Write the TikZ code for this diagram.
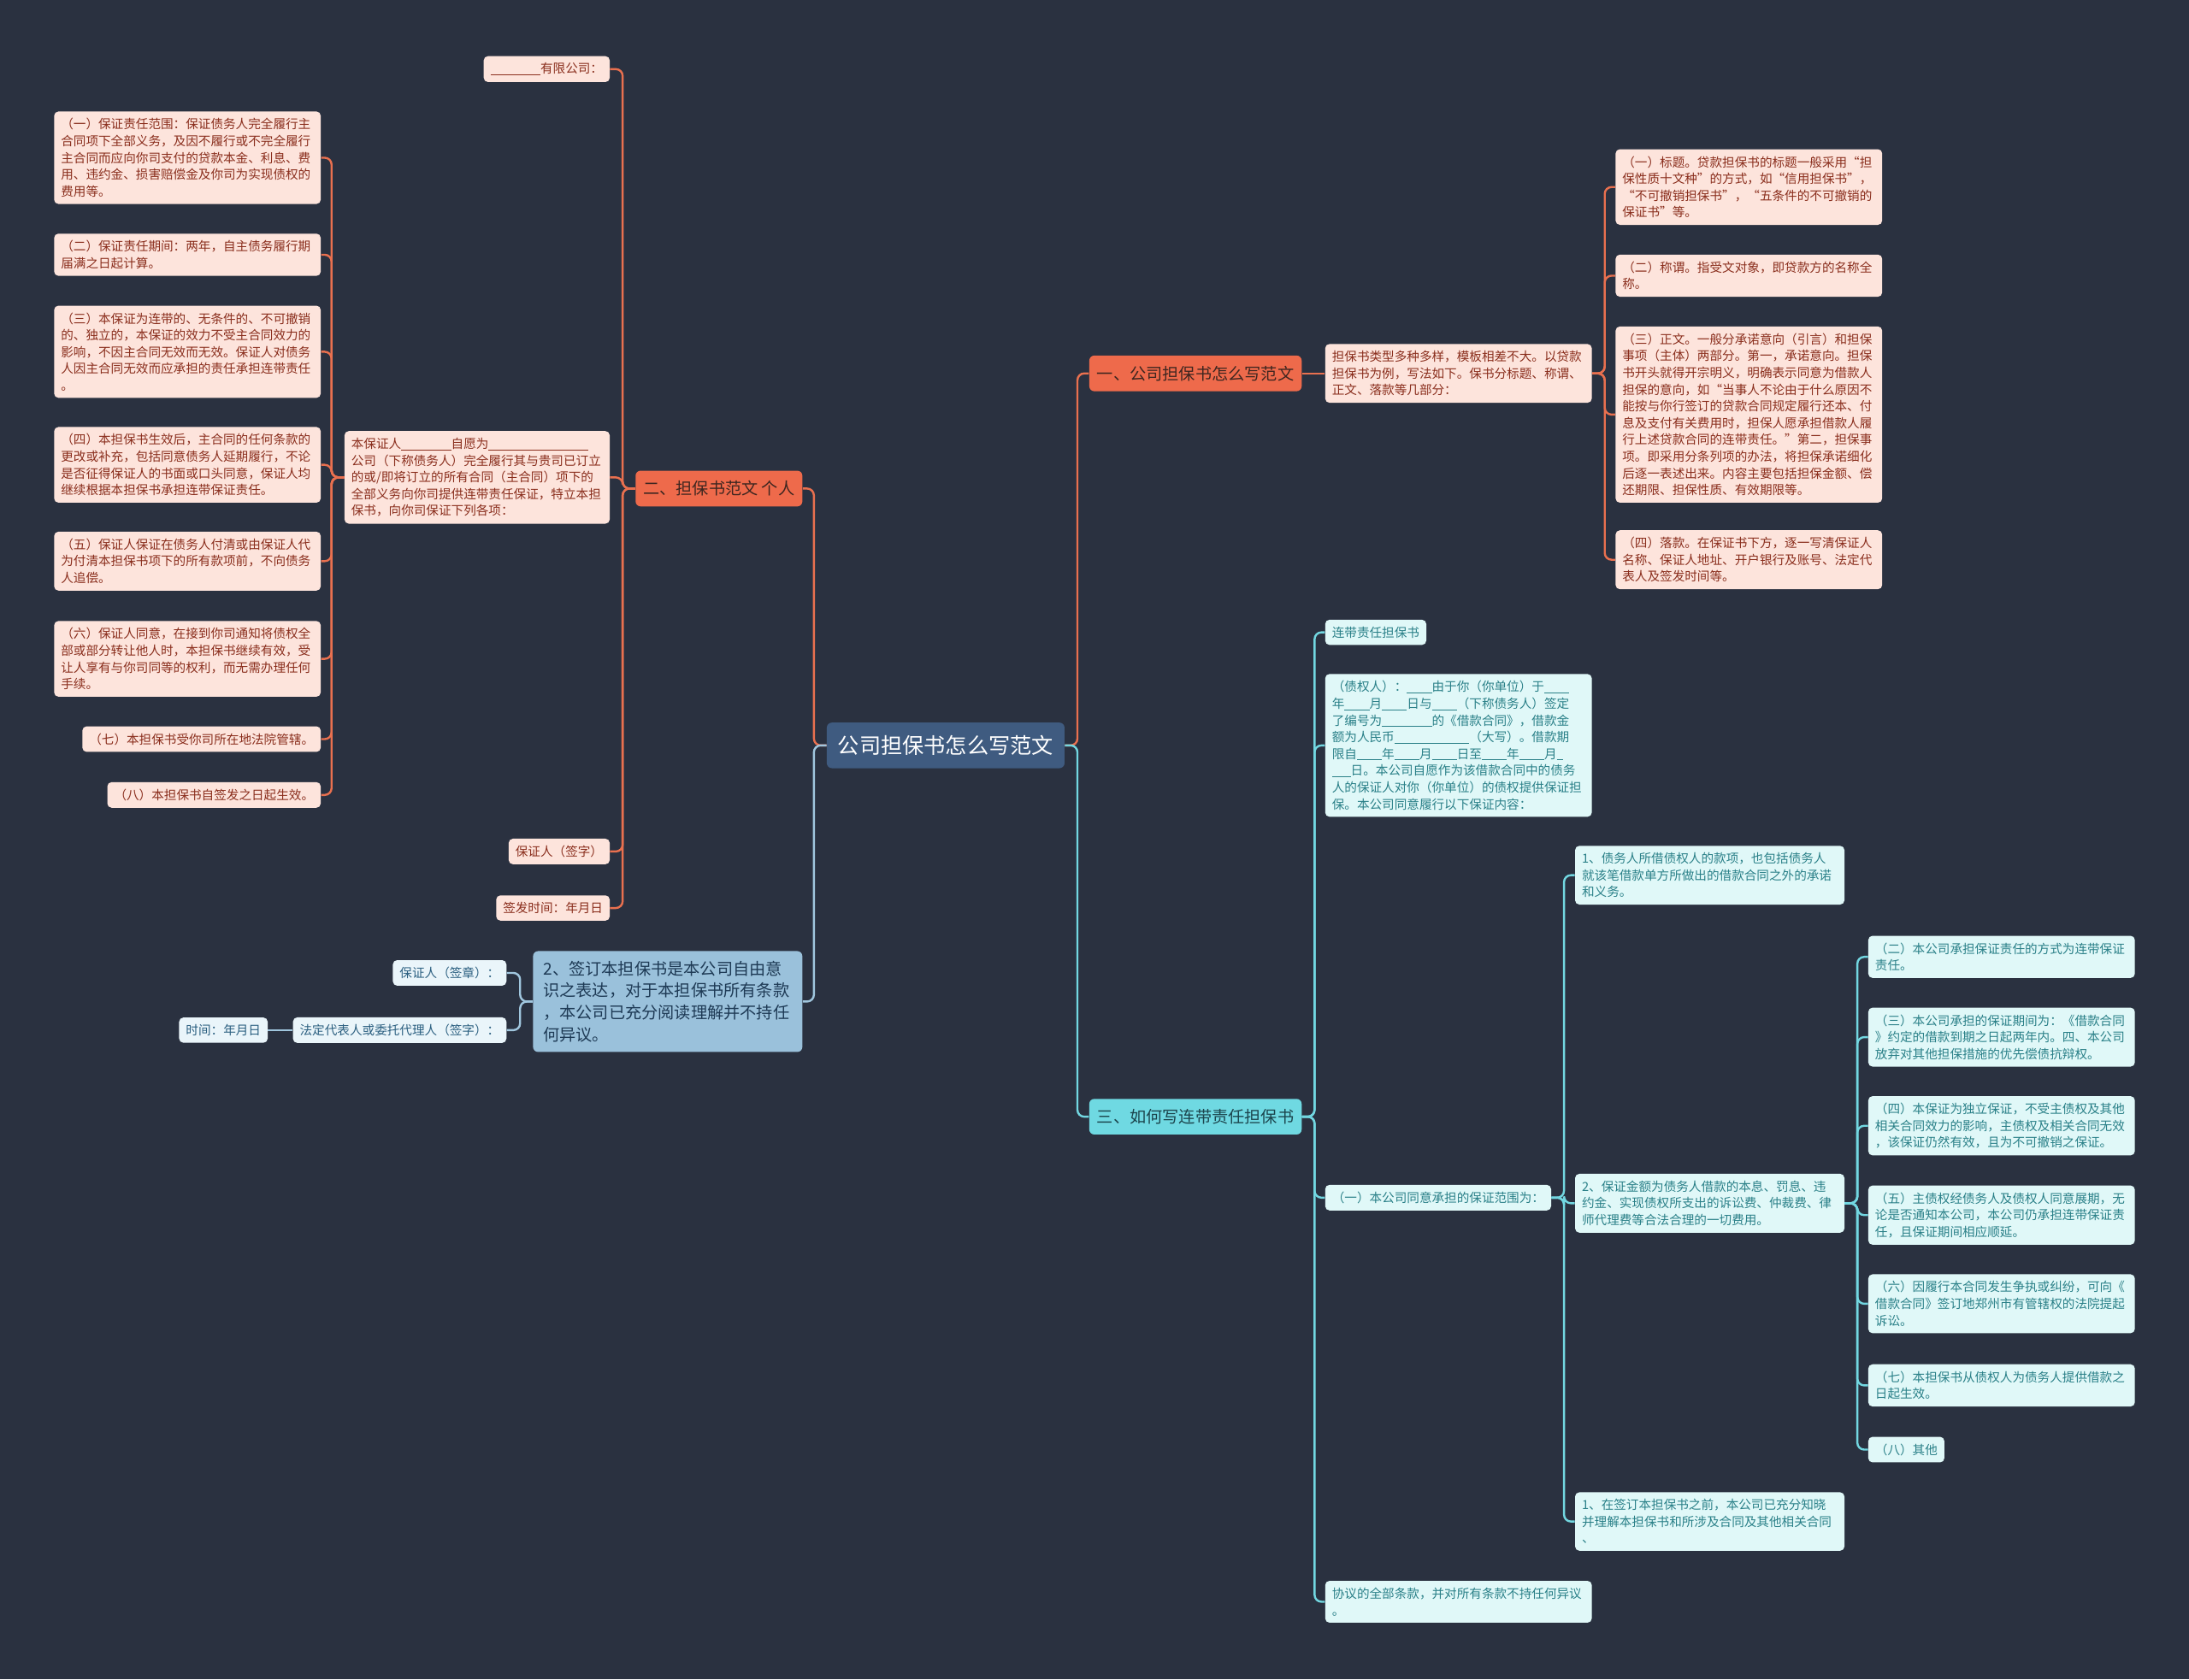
\documentclass[tikz,border=0pt]{standalone}
\usepackage{fontspec}
\setmainfont{Noto Sans CJK SC}
\definecolor{bg}{HTML}{2A3140}
\definecolor{cOr}{HTML}{EE6A4B}
\definecolor{cOrT}{HTML}{3E2620}
\definecolor{cOrL}{HTML}{E9704F}
\definecolor{cPk}{HTML}{FDE4DC}
\definecolor{cPkT}{HTML}{8A2E1D}
\definecolor{cCe}{HTML}{3F5B80}
\definecolor{cBl}{HTML}{9AC1DB}
\definecolor{cBlT}{HTML}{1E3A55}
\definecolor{cBlL}{HTML}{A0C6DE}
\definecolor{cLb}{HTML}{EAF5FA}
\definecolor{cLbT}{HTML}{2B5F80}
\definecolor{cCy}{HTML}{6FD9E2}
\definecolor{cCyT}{HTML}{1C454D}
\definecolor{cCyL}{HTML}{72D7E1}
\definecolor{cCf}{HTML}{E0F8F8}
\definecolor{cCfT}{HTML}{2A8088}
\newcommand\fsS{\fontsize{7.3}{9.8}\selectfont}
\newcommand\fsB{\fontsize{9.6}{12.8}\selectfont}
\newcommand\fsC{\fontsize{12.6}{15}\selectfont}
\newcommand\bk[1]{\rule[-1pt]{#1em}{0.45pt}}
\newcommand\cR[3]{\draw[#1] (#2.east) -- ++(9,0) |- (#3.west);}
\newcommand\cL[3]{\draw[#1] (#2.west) -- ++(-9,0) |- (#3.east);}
\begin{document}
\begin{tikzpicture}[x=0.8163pt,y=-0.8163pt,
  box/.style={rounded corners=2.5pt, inner xsep=4pt, inner ysep=4pt, align=left, font=\fsS},
  pk/.style={box, fill=cPk, text=cPkT},
  lb/.style={box, fill=cLb, text=cLbT},
  cf/.style={box, fill=cCf, text=cCfT},
  wide/.style={text width=147.9pt},
  wideb/.style={text width=149.5pt},
  brbox/.style={rounded corners=3pt, inner xsep=4.5pt, inner ysep=6pt, font=\fsB},
  ol/.style={draw=cOrL, line width=1.2pt, rounded corners=4pt},
  bl/.style={draw=cBlL, line width=1.2pt, rounded corners=4pt},
  cl/.style={draw=cCyL, line width=1.2pt, rounded corners=4pt},
]
\fill[bg] (0,0) rectangle (1568,1203);
\useasboundingbox (0,0) rectangle (1568,1203);

% center
\node[fill=cCe, text=white, rounded corners=3pt, inner xsep=6.5pt, inner ysep=7.5pt, font=\fsC, anchor=west] (C) at (592,534) {公司担保书怎么写范文};

% left orange branch
\node[brbox, fill=cOr, text=cOrT, anchor=east] (B2) at (575,350) {二、担保书范文 个人};
\node[pk, anchor=east] (Y) at (437,49.5) {\bk{4}有限公司：};
\node[pk, anchor=east, text width=147.1pt] (BZ) at (437,342) {本保证人\bk{4}自愿为\bk{8}\\公司（下称债务人）完全履行其与贵司已订立\\的或/即将订立的所有合同（主合同）项下的\\全部义务向你司提供连带责任保证，特立本担\\保书，向你司保证下列各项：};
\node[pk, anchor=east] (S1) at (437,610) {保证人（签字）};
\node[pk, anchor=east] (S2) at (437,650.5) {签发时间：年月日};

\node[pk, wide, anchor=east] (L1) at (230,113) {（一）保证责任范围：保证债务人完全履行主\\合同项下全部义务，及因不履行或不完全履行\\主合同而应向你司支付的贷款本金、利息、费\\用、违约金、损害赔偿金及你司为实现债权的\\费用等。};
\node[pk, wide, anchor=east] (L2) at (230,182.5) {（二）保证责任期间：两年，自主债务履行期\\届满之日起计算。};
\node[pk, wide, anchor=east] (L3) at (230,252) {（三）本保证为连带的、无条件的、不可撤销\\的、独立的，本保证的效力不受主合同效力的\\影响，不因主合同无效而无效。保证人对债务\\人因主合同无效而应承担的责任承担连带责任\\。};
\node[pk, wide, anchor=east] (L4) at (230,333) {（四）本担保书生效后，主合同的任何条款的\\更改或补充，包括同意债务人延期履行，不论\\是否征得保证人的书面或口头同意，保证人均\\继续根据本担保书承担连带保证责任。};
\node[pk, wide, anchor=east] (L5) at (230,402) {（五）保证人保证在债务人付清或由保证人代\\为付清本担保书项下的所有款项前，不向债务\\人追偿。};
\node[pk, wide, anchor=east] (L6) at (230,472) {（六）保证人同意，在接到你司通知将债权全\\部或部分转让他人时，本担保书继续有效，受\\让人享有与你司同等的权利，而无需办理任何\\手续。};
\node[pk, anchor=east] (L7) at (230,529.5) {（七）本担保书受你司所在地法院管辖。};
\node[pk, anchor=east] (L8) at (230,569.5) {（八）本担保书自签发之日起生效。};

% left blue branch
\node[fill=cBl, text=cBlT, rounded corners=3pt, inner xsep=6pt, inner ysep=5.8pt, font=\fsB, align=left, text width=145.5pt, anchor=east] (Q) at (575,717.5) {2、签订本担保书是本公司自由意\\识之表达，对于本担保书所有条款\\，本公司已充分阅读理解并不持任\\何异议。};
\node[lb, anchor=east] (Q1) at (363,697) {保证人（签章）：};
\node[lb, anchor=east] (Q2) at (363,738) {法定代表人或委托代理人（签字）：};
\node[lb, anchor=east] (Q3) at (192,738) {时间：年月日};

% right orange branch
\node[brbox, fill=cOr, text=cOrT, anchor=west] (R1) at (780,267.5) {一、公司担保书怎么写范文};
\node[pk, wide, anchor=west] (R1a) at (949,267.5) {担保书类型多种多样，模板相差不大。以贷款\\担保书为例，写法如下。保书分标题、称谓、\\正文、落款等几部分：};
\node[pk, wide, anchor=west] (T1) at (1157,134) {（一）标题。贷款担保书的标题一般采用“担\\保性质十文种”的方式，如“信用担保书”，\\“不可撤销担保书”，“五条件的不可撤销的\\保证书”等。};
\node[pk, wide, anchor=west] (T2) at (1157,197.5) {（二）称谓。指受文对象，即贷款方的名称全\\称。};
\node[pk, wide, anchor=west] (T3) at (1157,297) {（三）正文。一般分承诺意向（引言）和担保\\事项（主体）两部分。第一，承诺意向。担保\\书开头就得开宗明义，明确表示同意为借款人\\担保的意向，如“当事人不论由于什么原因不\\能按与你行签订的贷款合同规定履行还本、付\\息及支付有关费用时，担保人愿承担借款人履\\行上述贷款合同的连带责任。”第二，担保事\\项。即采用分条列项的办法，将担保承诺细化\\后逐一表述出来。内容主要包括担保金额、偿\\还期限、担保性质、有效期限等。};
\node[pk, wide, anchor=west] (T4) at (1157,401) {（四）落款。在保证书下方，逐一写清保证人\\名称、保证人地址、开户银行及账号、法定代\\表人及签发时间等。};

% right cyan branch
\node[brbox, fill=cCy, text=cCyT, anchor=west] (R3) at (780,800) {三、如何写连带责任担保书};
\node[cf, anchor=west] (U1) at (949,453) {连带责任担保书};
\node[cf, wide, anchor=west] (U2) at (949,534) {（债权人）：\bk{2}由于你（你单位）于\bk{2}\\年\bk{2}月\bk{2}日与\bk{2}（下称债务人）签定\\了编号为\bk{4}的《借款合同》，借款金\\额为人民币\bk{6}（大写）。借款期\\限自\bk{2}年\bk{2}月\bk{2}日至\bk{2}年\bk{2}月\bk{0.5}\\\bk{1.5}日。本公司自愿作为该借款合同中的债务\\人的保证人对你（你单位）的债权提供保证担\\保。本公司同意履行以下保证内容：};
\node[cf, anchor=west] (U3) at (949,858) {（一）本公司同意承担的保证范围为：};
\node[cf, wide, anchor=west] (U4) at (949,1147.5) {协议的全部条款，并对所有条款不持任何异议\\。};
\node[cf, wideb, anchor=west] (V1) at (1128,627) {1、债务人所借债权人的款项，也包括债务人\\就该笔借款单方所做出的借款合同之外的承诺\\和义务。};
\node[cf, wideb, anchor=west] (V2) at (1128,862) {2、保证金额为债务人借款的本息、罚息、违\\约金、实现债权所支出的诉讼费、仲裁费、律\\师代理费等合法合理的一切费用。};
\node[cf, wideb, anchor=west] (V3) at (1128,1090) {1、在签订本担保书之前，本公司已充分知晓\\并理解本担保书和所涉及合同及其他相关合同\\、};
\node[cf, wide, anchor=west] (W2) at (1338,685.5) {（二）本公司承担保证责任的方式为连带保证\\责任。};
\node[cf, wide, anchor=west] (W3) at (1338,743) {（三）本公司承担的保证期间为：《借款合同\\》约定的借款到期之日起两年内。四、本公司\\放弃对其他担保措施的优先偿债抗辩权。};
\node[cf, wide, anchor=west] (W4) at (1338,806.5) {（四）本保证为独立保证，不受主债权及其他\\相关合同效力的影响，主债权及相关合同无效\\，该保证仍然有效，且为不可撤销之保证。};
\node[cf, wide, anchor=west] (W5) at (1338,870.5) {（五）主债权经债务人及债权人同意展期，无\\论是否通知本公司，本公司仍承担连带保证责\\任，且保证期间相应顺延。};
\node[cf, wide, anchor=west] (W6) at (1338,934) {（六）因履行本合同发生争执或纠纷，可向《\\借款合同》签订地郑州市有管辖权的法院提起\\诉讼。};
\node[cf, wide, anchor=west] (W7) at (1338,992.5) {（七）本担保书从债权人为债务人提供借款之\\日起生效。};
\node[cf, anchor=west] (W8) at (1338,1038.5) {（八）其他};

% connectors
\cL{ol}{C}{B2}
\cL{bl}{C}{Q}
\cR{ol}{C}{R1}
\cR{cl}{C}{R3}
\foreach \n in {Y,BZ,S1,S2} {\cL{ol}{B2}{\n}}
\foreach \n in {L1,L2,L3,L4,L5,L6,L7,L8} {\cL{ol}{BZ}{\n}}
\foreach \n in {Q1,Q2} {\cL{bl}{Q}{\n}}
\draw[bl] (Q2.west) -- (Q3.east);
\draw[ol] (R1.east) -- (R1a.west);
\foreach \n in {T1,T2,T3,T4} {\cR{ol}{R1a}{\n}}
\foreach \n in {U1,U2,U3,U4} {\cR{cl}{R3}{\n}}
\foreach \n in {V1,V2,V3} {\cR{cl}{U3}{\n}}
\foreach \n in {W2,W3,W4,W5,W6,W7,W8} {\cR{cl}{V2}{\n}}
\end{tikzpicture}
\end{document}
